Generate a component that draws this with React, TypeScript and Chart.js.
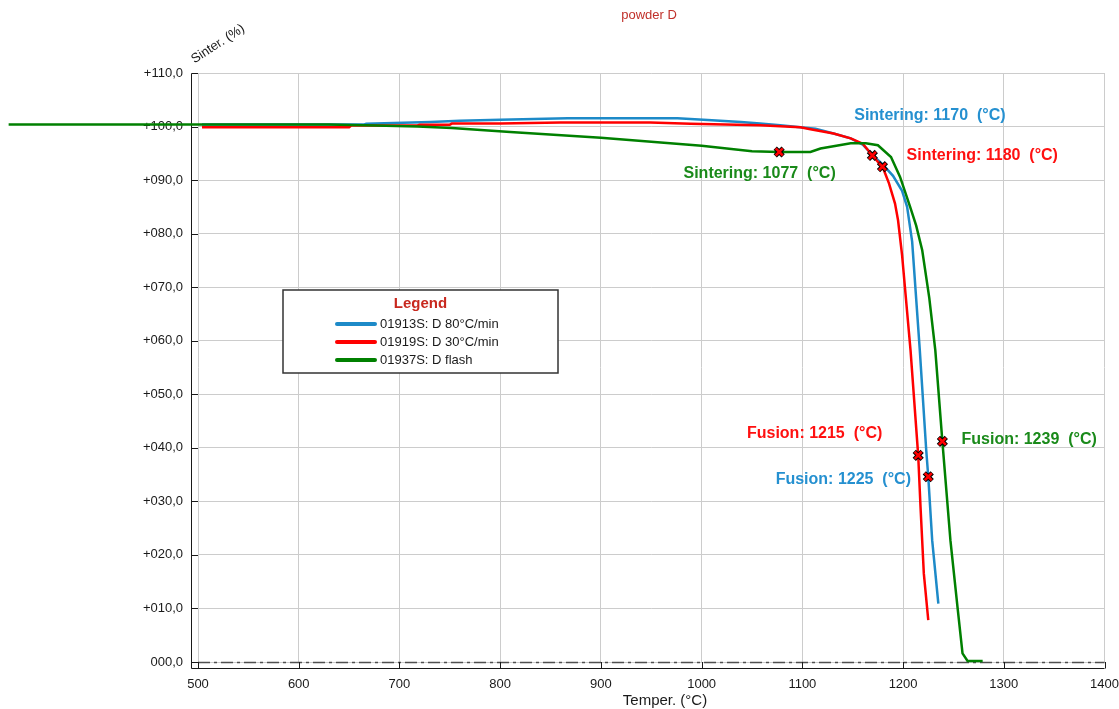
import React, { useEffect, useRef } from 'react';
import { Chart, registerables } from 'chart.js';

Chart.register(...registerables);

// ---------- Texts ----------
const chartTitle = 'powder D';
const xAxisTitle = 'Temper. (°C)';
const yAxisTitle = 'Sinter. (%)';
const legendTitle = 'Legend';

// ---------- Axes ----------
const xMin = 500;
const xMax = 1400;
const xStep = 100;
const yMin = 0;
const yMax = 110;
const yStep = 10;

// ---------- Series ----------
const seriesLabels = ['01913S: D 80°C/min', '01919S: D 30°C/min', '01937S: D flash'];

// 01913S: D 80°C/min (blue)
const temp80 = [504, 665, 667, 731, 760, 800, 867, 976, 1006, 1039, 1058, 1078, 1098, 1113, 1131, 1148, 1160, 1170, 1180, 1190, 1199, 1204, 1209, 1216.6, 1223, 1225, 1228.9, 1235];
const sinter80 = [100.4, 100.4, 100.5, 100.86, 101.1, 101.25, 101.55, 101.55, 101.2, 100.86, 100.55, 100.25, 99.85, 99.6, 98.7, 97.8, 96.6, 94.6, 92.9, 90.8, 88.0, 85.0, 78.5, 58.2, 39.5, 34.6, 22.7, 10.9];

// 01919S: D 30°C/min (red)
const temp30 = [504, 650, 652, 718, 720, 750, 752, 800, 860, 949, 989, 1058, 1098, 1108, 1131, 1148, 1160, 1170, 1180, 1186, 1192, 1195, 1199, 1207.4, 1215, 1217.3, 1220.6, 1225];
const sinter30 = [99.85, 99.85, 100.2, 100.2, 100.35, 100.35, 100.55, 100.55, 100.75, 100.75, 100.5, 100.25, 99.85, 99.5, 98.7, 97.8, 96.8, 94.5, 92.3, 89.4, 85.6, 82.5, 76.0, 58.2, 38.6, 29.0, 16.5, 7.8];

// 01937S: D flash (green)
const tempFlash = [312, 630, 676, 718, 752, 770, 788, 810, 900, 1000, 1050, 1077, 1108, 1118, 1148, 1163, 1175, 1188, 1197, 1207, 1213, 1219, 1226, 1232, 1239, 1247, 1254, 1259, 1264, 1279];
const sinterFlash = [100.4, 100.4, 100.2, 100.0, 99.75, 99.5, 99.25, 99.0, 97.9, 96.4, 95.4, 95.25, 95.25, 95.9, 96.9, 96.9, 96.5, 94.3, 90.6, 85.0, 81.5, 76.9, 68.0, 58.2, 41.2, 22.7, 10.3, 1.6, 0.2, 0.2];

// ---------- Characteristic points ----------
const eventLabels = ['Sintering: 1170  (°C)', 'Sintering: 1180  (°C)', 'Sintering: 1077  (°C)', 'Fusion: 1215  (°C)', 'Fusion: 1225  (°C)', 'Fusion: 1239  (°C)'];
const eventTemps = [1169.5, 1179.5, 1077, 1215, 1225, 1239];
const eventValues = [94.6, 92.5, 95.25, 38.6, 34.6, 41.2];
const eventSeries = [0, 1, 2, 1, 0, 2];
// label anchor (left edge of text, vertical middle) in data units
const eventLabelT = [1151.5, 1203.5, 982, 1045, 1073.5, 1258];
const eventLabelV = [102.1, 94.6, 91.3, 42.7, 34.1, 41.6];

// ---------- Styles ----------
const lineColors = ['#1d8ac8', '#ff0000', '#008000'];
const labelColors = ['#2590d0', '#ff1010', '#1a8a1a'];
const FONT = '"Liberation Sans", Arial, sans-serif';

const toPoints = (xs: number[], ys: number[]) => xs.map((x, i) => ({ x, y: ys[i] }));

const overlayPlugin = {
  id: 'overlay',
  beforeDatasetsDraw(chart: any) {
    const { ctx, chartArea: a, scales } = chart;
    const x = scales.x;
    const y = scales.y;
    ctx.save();
    // zero dash-dot line
    const y0 = Math.round(y.getPixelForValue(0)) + 0.5;
    ctx.strokeStyle = '#505050';
    ctx.lineWidth = 1.5;
    ctx.setLineDash([12, 4, 3, 4]);
    ctx.beginPath();
    ctx.moveTo(a.left, y0);
    ctx.lineTo(a.right, y0);
    ctx.stroke();
    ctx.setLineDash([]);
    // offset axes
    const ax = Math.round(a.left) - 6.5;
    const ay = Math.round(a.bottom) + 6.5;
    ctx.strokeStyle = '#1a1a1a';
    ctx.lineWidth = 1;
    ctx.beginPath();
    ctx.moveTo(ax, Math.round(a.top) + 0.5);
    ctx.lineTo(ax, ay);
    ctx.lineTo(a.right, ay);
    y.ticks.forEach((t: any) => {
      const py = Math.round(y.getPixelForValue(t.value)) + 0.5;
      ctx.moveTo(ax, py);
      ctx.lineTo(a.left, py);
    });
    x.ticks.forEach((t: any) => {
      const px = Math.round(x.getPixelForValue(t.value)) + 0.5;
      ctx.moveTo(px, ay);
      ctx.lineTo(px, a.bottom);
    });
    ctx.stroke();
    ctx.restore();
  },
  afterDatasetsDraw(chart: any) {
    const { ctx, chartArea: a, scales } = chart;
    const x = scales.x;
    const y = scales.y;
    ctx.save();
    // event labels
    ctx.font = `bold 16px ${FONT}`;
    ctx.textAlign = 'left';
    ctx.textBaseline = 'middle';
    eventLabels.forEach((lab, i) => {
      ctx.fillStyle = labelColors[eventSeries[i]];
      ctx.fillText(lab, x.getPixelForValue(eventLabelT[i]), y.getPixelForValue(eventLabelV[i]));
    });
    // legend box
    const lx = a.left + 85;
    const ly = a.top + 217;
    const lw = 275;
    const lh = 83;
    ctx.fillStyle = '#ffffff';
    ctx.fillRect(lx, ly, lw, lh);
    ctx.strokeStyle = '#333333';
    ctx.lineWidth = 1.5;
    ctx.strokeRect(lx, ly, lw, lh);
    ctx.font = `bold 15px ${FONT}`;
    ctx.fillStyle = '#c8281e';
    ctx.textAlign = 'center';
    ctx.fillText(legendTitle, lx + lw / 2, ly + 14);
    ctx.font = `13px ${FONT}`;
    ctx.textAlign = 'left';
    seriesLabels.forEach((lab, i) => {
      const yy = ly + 34 + i * 18;
      ctx.strokeStyle = lineColors[i];
      ctx.lineWidth = 4;
      ctx.lineCap = 'round';
      ctx.beginPath();
      ctx.moveTo(lx + 54, yy);
      ctx.lineTo(lx + 92, yy);
      ctx.stroke();
      ctx.fillStyle = '#1a1a1a';
      ctx.fillText(lab, lx + 97, yy + 0.5);
    });
    // titles
    ctx.textAlign = 'center';
    ctx.fillStyle = '#c0302a';
    ctx.font = `13px ${FONT}`;
    ctx.fillText(chartTitle, 649, 15);
    ctx.fillStyle = '#1a1a1a';
    ctx.font = `15px ${FONT}`;
    ctx.fillText(xAxisTitle, 665, 701);
    ctx.save();
    ctx.translate(218, 44);
    ctx.rotate((-33 * Math.PI) / 180);
    ctx.font = `13px ${FONT}`;
    ctx.fillText(yAxisTitle, 0, 0);
    ctx.restore();
    ctx.restore();
  },
};

const formatY = (v: number) => {
  if (v === 0) return '000,0';
  const s = String(Math.abs(v)).padStart(3, '0') + ',0';
  return (v > 0 ? '+' : '-') + s;
};

export default function App() {
  const canvasRef = useRef<HTMLCanvasElement | null>(null);

  useEffect(() => {
    if (!canvasRef.current) return;
    const lineDs = (i: number, xs: number[], ys: number[], order: number, clip: any) => ({
      type: 'line' as const,
      label: seriesLabels[i],
      data: toPoints(xs, ys),
      borderColor: lineColors[i],
      backgroundColor: lineColors[i],
      borderWidth: 2.5,
      pointRadius: 0,
      tension: 0,
      fill: false,
      order,
      clip,
    });
    const markerPts = toPoints(eventTemps, eventValues);
    const chart = new Chart(canvasRef.current, {
      type: 'line',
      data: {
        datasets: [
          {
            type: 'scatter',
            label: 'markers',
            data: markerPts,
            pointStyle: 'crossRot',
            pointRadius: 5,
            pointBorderWidth: 2.6,
            borderColor: '#ff0000',
            backgroundColor: '#ff0000',
            showLine: false,
            order: 0,
          } as any,
          {
            type: 'scatter',
            label: 'markersShadow',
            data: markerPts,
            pointStyle: 'crossRot',
            pointRadius: 5.6,
            pointBorderWidth: 4.6,
            borderColor: '#000000',
            backgroundColor: '#000000',
            showLine: false,
            order: 1,
          } as any,
          lineDs(2, tempFlash, sinterFlash, 2, false),
          lineDs(1, temp30, sinter30, 3, undefined),
          lineDs(0, temp80, sinter80, 4, undefined),
        ],
      },
      options: {
        responsive: false,
        animation: false,
        events: [],
        layout: { padding: { top: 73, right: 0, left: 0, bottom: 0 } },
        plugins: {
          legend: { display: false },
          title: { display: false },
          tooltip: { enabled: false },
        },
        scales: {
          x: {
            type: 'linear',
            min: xMin,
            max: xMax,
            border: { display: false },
            grid: { color: '#cccccc', lineWidth: 1, drawTicks: true, tickLength: 15, tickColor: 'rgba(0,0,0,0)' },
            ticks: {
              stepSize: xStep,
              padding: 0,
              color: '#1a1a1a',
              font: { family: FONT, size: 13 },
              maxRotation: 0,
              callback: (v: any) => String(v),
            },
            afterFit: (s: any) => {
              s.height = 47;
            },
          },
          y: {
            type: 'linear',
            min: yMin,
            max: yMax,
            border: { display: false },
            grid: { color: '#cccccc', lineWidth: 1, drawTicks: false },
            ticks: {
              stepSize: yStep,
              padding: 15,
              color: '#1a1a1a',
              font: { family: FONT, size: 13 },
              callback: (v: any) => formatY(Number(v)),
            },
            afterFit: (s: any) => {
              s.width = 198;
            },
          },
        },
      },
      plugins: [overlayPlugin],
    });
    return () => chart.destroy();
  }, []);

  return (
    <div style={{ position: 'fixed', left: 0, top: 0, width: 1119, height: 709, background: '#ffffff' }}>
      <canvas ref={canvasRef} width={1119} height={709} style={{ display: 'block' }} />
    </div>
  );
}
